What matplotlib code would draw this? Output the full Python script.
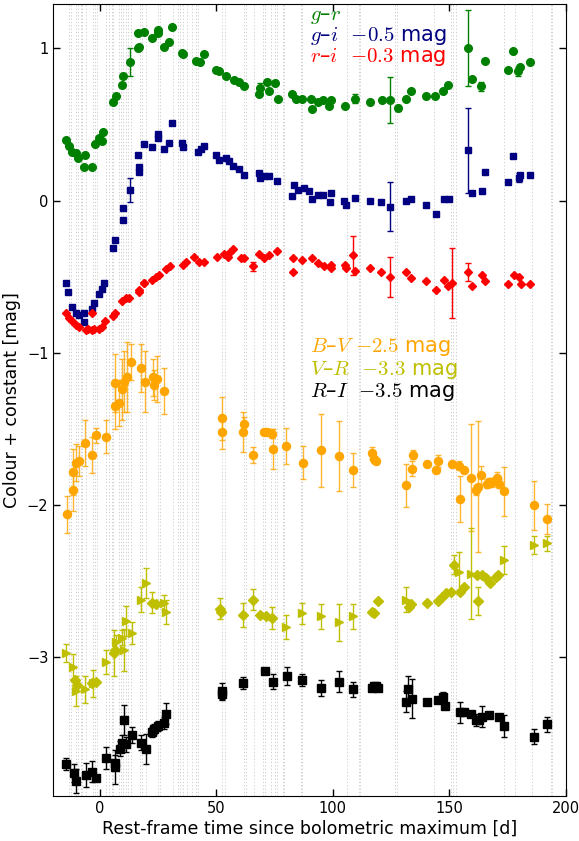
import numpy as np
import matplotlib
matplotlib.use("Agg")
import matplotlib.pyplot as plt

plt.rcParams['mathtext.fontset'] = 'cm'
plt.rcParams['font.family'] = ['DejaVu Sans']

# ---------------- data ----------------
# g-r
gr_t = [-14.4,-13.2,-11.8,-10.4,-9.2,-6.3,-6.8,-3.2,-2.1,-0.3,0.8,1.5,5.8,6.8,9.6,9.9,12.8,16.5,17.0,16.4,18.9,22.5,24.8,25.1,27.5,29.7,30.8,35.1,35.8,41.2,43.1,44.8,49.8,51.2,54.1,57.7,59.8,61.9,68.7,68.1,71.9,72.7,75.2,76.6,82.6,84.1,86.9,90.5,91.2,93.4,95.8,98.4,99.1,105.2,109.5,115.8,120.9,124.4,128.1,131.2,133.4,140.1,143.8,147.2,149.4,158.1,159.5,163.6,165.1,175.2,177.4,179.5,180.2,184.4]
gr_c = [0.40,0.36,0.32,0.31,0.28,0.30,0.22,0.22,0.37,0.41,0.39,0.45,0.65,0.69,0.76,0.82,0.91,1.00,1.01,1.10,1.11,1.07,1.12,1.10,1.01,1.04,1.14,0.97,0.96,0.92,0.91,0.96,0.86,0.85,0.82,0.79,0.78,0.75,0.74,0.70,0.78,0.72,0.77,0.67,0.70,0.67,0.67,0.67,0.60,0.65,0.66,0.62,0.66,0.62,0.67,0.65,0.66,0.66,0.61,0.67,0.72,0.69,0.69,0.72,0.76,1.00,0.80,0.75,0.92,0.86,0.98,0.85,0.88,0.91]
gr_e = [0,0,0,0,0,0,0,0,0,0,0,0,0,0,0,0,0.09,0,0,0,0,0,0,0,0,0,0,0,0,0,0,0,0,0,0,0,0,0,0.03,0,0,0,0,0,0,0,0,0,0,0,0,0,0,0,0.03,0,0,0.15,0.02,0,0,0,0,0,0,0.25,0,0.03,0,0,0,0.03,0,0]

# g-i (already shifted by -0.5 mag)
gi_t = [-14.4,-13.5,-11.8,-10.4,-8.9,-6.8,-6.8,-3.2,-2.5,-0.3,0.8,1.8,5.8,6.6,9.8,9.9,12.8,16.8,16.8,16.4,18.9,22.5,24.8,25.1,27.6,29.7,30.8,35.1,35.5,41.9,43.4,44.8,49.8,51.2,54.1,55.5,57.0,59.8,61.9,68.4,68.7,70.5,72.7,76.2,83.4,82.6,84.8,87.7,89.8,91.2,93.4,95.9,98.7,99.1,104.8,105.5,109.5,115.8,120.8,124.4,131.2,133.4,140.1,144.1,147.7,149.8,158.1,159.5,163.8,165.2,175.2,177.4,179.8,180.2,184.5]
gi_c = [-0.54,-0.60,-0.70,-0.74,-0.75,-0.74,-0.80,-0.71,-0.67,-0.61,-0.58,-0.54,-0.31,-0.26,-0.13,-0.05,0.07,0.19,0.22,0.30,0.37,0.35,0.44,0.41,0.34,0.38,0.51,0.38,0.35,0.32,0.34,0.36,0.30,0.27,0.28,0.26,0.23,0.21,0.17,0.18,0.15,0.16,0.16,0.13,0.10,0.03,0.07,0.08,0.06,0.01,0.04,0.04,-0.01,0.05,0.00,-0.03,0.02,0.00,-0.01,-0.04,0.00,0.01,-0.03,-0.09,0.01,0.01,0.33,0.05,0.06,0.19,0.12,0.29,0.15,0.17,0.17]
gi_e = [0,0,0,0,0,0,0,0,0,0,0,0,0,0,0,0,0.08,0,0,0,0,0,0,0,0,0,0,0,0,0,0,0,0,0,0,0,0,0,0,0,0,0,0,0,0,0,0,0,0,0,0,0,0,0,0,0,0,0,0,0.16,0,0,0,0,0,0,0.28,0,0,0,0,0,0.03,0,0]

# r-i (already shifted by -0.3 mag)
ri_t = [-14.4,-13.2,-11.8,-10.4,-8.9,-6.1,-4.9,-3.2,-2.5,-0.3,1.1,2.2,-3.2,5.7,6.6,9.6,11.2,12.5,16.6,16.8,18.9,19.1,22.5,23.9,25.4,28.4,30.3,35.5,36.8,40.5,42.5,44.8,50.1,53.4,54.8,57.2,56.0,60.5,61.9,65.8,68.4,70.5,72.7,76.2,82.9,82.9,86.9,91.0,93.4,96.2,99.1,99.3,105.1,105.5,108.8,109.5,115.8,120.8,124.4,131.2,133.4,140.1,144.1,147.7,149.5,151.2,158.1,159.5,163.8,165.2,175.2,177.6,179.8,180.5,184.5]
ri_c = [-0.74,-0.77,-0.79,-0.82,-0.83,-0.85,-0.84,-0.85,-0.84,-0.84,-0.83,-0.79,-0.74,-0.76,-0.74,-0.66,-0.64,-0.64,-0.60,-0.59,-0.54,-0.54,-0.52,-0.50,-0.49,-0.45,-0.43,-0.42,-0.40,-0.37,-0.40,-0.40,-0.37,-0.35,-0.37,-0.32,-0.34,-0.38,-0.38,-0.43,-0.35,-0.38,-0.36,-0.33,-0.38,-0.47,-0.39,-0.38,-0.41,-0.43,-0.42,-0.44,-0.42,-0.44,-0.36,-0.46,-0.44,-0.47,-0.50,-0.47,-0.51,-0.53,-0.59,-0.52,-0.56,-0.54,-0.47,-0.56,-0.49,-0.53,-0.55,-0.49,-0.50,-0.55,-0.55]
ri_e = [0,0,0,0,0,0,0,0,0,0,0,0,0,0,0,0,0,0,0,0,0,0,0,0,0,0,0,0,0,0,0,0,0,0,0,0,0,0,0,0.03,0,0,0,0,0,0,0,0,0,0,0,0,0,0,0.13,0,0,0,0.13,0,0,0,0,0,0,0.23,0.06,0,0,0,0,0,0,0,0]

# B-V (shifted by -2.5 mag)
bv_t = [-14.2,-11.4,-11.4,-10.2,-9.1,-6.2,-3.3,-1.6,2.7,6.6,6.6,8.4,9.5,10.5,11.5,13.5,17.7,19.5,22.6,23.4,24.3,27.6,52.2,52.2,61.2,61.9,65.9,70.5,71.9,73.8,74.1,80.0,87.0,94.8,102.7,108.8,116.7,117.7,118.6,131.5,133.8,134.5,140.2,144.4,145.2,151.2,154.1,154.5,156.2,159.4,161.3,162.2,163.4,166.2,167.0,168.4,170.2,171.2,173.4,186.2,191.9]
bv_c = [-2.06,-1.90,-1.78,-1.72,-1.71,-1.59,-1.67,-1.54,-1.55,-1.35,-1.20,-1.33,-1.24,-1.19,-1.16,-1.06,-1.10,-1.19,-1.16,-1.21,-1.17,-1.25,-1.43,-1.52,-1.52,-1.47,-1.67,-1.52,-1.52,-1.53,-1.63,-1.61,-1.72,-1.64,-1.68,-1.77,-1.66,-1.70,-1.71,-1.87,-1.76,-1.67,-1.73,-1.77,-1.71,-1.73,-1.74,-1.96,-1.77,-1.82,-1.90,-1.88,-1.80,-1.86,-1.85,-1.85,-1.82,-1.86,-1.91,-2.00,-2.09]
bv_e = [0.12,0.14,0.15,0.12,0.10,0.15,0.12,0.05,0.11,0.15,0.19,0.15,0.20,0.20,0.23,0.12,0.16,0.20,0.12,0.10,0.15,0.15,0.14,0.11,0.13,0.05,0.05,0.02,0.02,0.03,0.13,0.12,0.11,0.24,0.23,0.11,0.04,0.02,0.02,0.14,0.05,0.03,0.02,0.02,0.04,0.02,0.03,0.15,0.02,0.35,0.03,0.43,0.06,0.03,0.03,0.03,0.04,0.03,0.16,0.16,0.10]

# V-R (shifted by -3.3 mag), two data sets
vr1_t = [-14.4,-11.5,-10.1,-6.3,-2.9,2.5,7.1,9.3,10.4,11.4,13.6,17.5,19.6,27.5,28.2,79.8,86.9,94.8,102.7,108.7,131.2,154.1,159.1,173.4,186.2,191.9]
vr1_c = [-2.97,-3.06,-3.22,-3.21,-3.17,-3.03,-2.90,-2.87,-2.95,-2.76,-2.84,-2.62,-2.51,-2.64,-2.70,-2.80,-2.71,-2.73,-2.77,-2.73,-2.62,-2.44,-2.45,-2.36,-2.26,-2.25]
vr1_e = [0.06,0.08,0.10,0.09,0.09,0.08,0.05,0.05,0.14,0.10,0.07,0.08,0.10,0.05,0.08,0.08,0.07,0.08,0.12,0.08,0.08,0.13,0.30,0.09,0.06,0.05]
vr2_t = [-10.6,-10.0,-3.5,-1.8,6.1,6.6,22.2,23.9,51.5,52.0,61.5,65.8,68.7,71.2,73.8,116.7,117.7,119.5,132.7,133.5,140.2,145.2,146.7,148.5,150.5,151.9,154.5,156.2,162.2,162.0,164.0,165.5,167.2,170.1,171.0]
vr2_c = [-3.15,-3.18,-3.17,-3.16,-2.97,-2.95,-2.64,-2.65,-2.68,-2.70,-2.72,-2.62,-2.72,-2.73,-2.74,-2.70,-2.71,-2.63,-2.67,-2.65,-2.64,-2.63,-2.60,-2.58,-2.57,-2.39,-2.57,-2.54,-2.63,-2.46,-2.46,-2.48,-2.51,-2.47,-2.46]
vr2_e = [0,0,0,0,0.15,0,0.07,0,0.07,0,0.08,0.07,0,0,0.07,0,0,0,0,0,0,0,0,0,0,0.06,0,0,0.09,0,0,0,0,0,0]

# R-I (shifted by -3.5 mag)
rI_t = [-14.4,-11.1,-10.1,-6.1,-3.5,-1.8,2.5,6.5,6.5,8.5,9.6,10.4,11.4,13.6,17.5,19.6,22.2,23.2,25.1,27.5,28.5,52.2,52.2,61.2,70.9,74.4,80.1,86.9,94.8,102.7,108.8,116.7,117.7,118.6,119.5,131.5,132.4,133.8,140.2,145.2,147.2,148.1,154.4,156.2,159.4,161.3,162.7,164.1,167.0,171.2,173.4,186.2,191.9]
rI_c = [-3.70,-3.76,-3.81,-3.77,-3.75,-3.79,-3.66,-3.72,-3.69,-3.60,-3.56,-3.41,-3.57,-3.51,-3.56,-3.60,-3.49,-3.47,-3.45,-3.43,-3.37,-3.22,-3.24,-3.17,-3.09,-3.16,-3.12,-3.15,-3.20,-3.16,-3.21,-3.20,-3.19,-3.19,-3.20,-3.29,-3.21,-3.27,-3.29,-3.28,-3.26,-3.32,-3.36,-3.36,-3.37,-3.41,-3.41,-3.39,-3.38,-3.39,-3.45,-3.52,-3.44]
rI_e = [0.04,0.06,0.08,0.08,0.07,0.02,0.07,0.11,0.05,0.05,0.05,0.10,0.05,0.05,0.05,0.10,0.03,0.03,0.03,0.04,0.07,0.05,0.04,0.04,0.02,0.05,0.06,0.04,0.05,0.07,0.05,0.02,0.02,0.02,0.02,0.07,0.09,0.13,0.02,0.02,0.03,0.02,0.07,0.02,0.02,0.04,0.02,0.07,0.02,0.02,0.07,0.05,0.05]

# epochs marked with dotted vertical lines
epochs = [-13.1,-12.2,-10.4,-9.4,-8.2,-7.5,-6.1,-2.9,-2.1,-1.1,2.5,3.9,5.1,5.8,8.2,8.9,9.9,11.4,12.1,13.2,17.1,17.9,19.6,25.1,25.6,31.4,33.4,34.2,35.6,37.5,39.6,41.4,42.1,52.5,53.7,61.8,62.5,66.2,70.1,70.8,73.6,75.1,75.8,78.4,79.1,86.2,86.9,105.9,111.2,111.7,126.5,127.4,143.4,150.5,151.5,152.9,173.4,178.1,185.5,193.4,194.1]

# ---------------- plot ----------------
fig = plt.figure(figsize=(5.79, 8.41), dpi=100)
ax = fig.add_axes([0.092, 0.0535, 0.8855, 0.9415])

for e in epochs:
    ax.axvline(e, color='0.78', ls=(0, (1.5, 2.5)), lw=0.6, zorder=0)

def series(t, c, e, color, marker, ms, ealpha=1.0):
    t = np.asarray(t, float); c = np.asarray(c, float); e = np.asarray(e, float)
    m = e > 0
    if m.any():
        ax.errorbar(t[m], c[m], yerr=e[m], fmt='none', ecolor=color, elinewidth=1.0,
                    capsize=2.5, capthick=1.0, alpha=ealpha, zorder=2)
    ax.plot(t, c, ls='none', marker=marker, ms=ms, color=color, mec=color, zorder=3)

series(gr_t, gr_c, gr_e, '#008000', 'o', 5.5)
series(gi_t, gi_c, gi_e, '#000080', 's', 5.0)
series(ri_t, ri_c, ri_e, '#ff0000', 'D', 4.5)
series(bv_t, bv_c, bv_e, '#ffa500', 'o', 5.8, 0.8)
series(vr1_t, vr1_c, vr1_e, '#bfbf00', '>', 5.8)
series(vr2_t, vr2_c, vr2_e, '#bfbf00', 'D', 5.2)
series(rI_t, rI_c, rI_e, '#000000', 's', 5.2)

fs = 15
tx = 90
ax.text(tx, 1.210, r'$g$–$r$', color='#008000', fontsize=fs, va='center')
ax.text(tx, 1.080, r'$g$–$i$  $-0.5$ mag', color='#000080', fontsize=fs, va='center')
ax.text(tx, 0.940, r'$r$–$i$  $-0.3$ mag', color='#ff0000', fontsize=fs, va='center')
ax.text(tx, -0.960, r'$B$–$V$ $-2.5$ mag', color='#ffa500', fontsize=fs, va='center')
ax.text(tx, -1.110, r'$V$–$R$  $-3.3$ mag', color='#bfbf00', fontsize=fs, va='center')
ax.text(tx, -1.260, r'$R$–$I$  $-3.5$ mag', color='#000000', fontsize=fs, va='center')

ax.set_xlim(-20, 200)
ax.set_ylim(-3.91, 1.29)
ax.set_xticks([0, 50, 100, 150, 200])
ax.set_yticks([-3, -2, -1, 0, 1])
ax.tick_params(direction='in', top=True, right=True, length=5, width=1, labelsize=10.5)
ax.set_xlabel('Rest-frame time since bolometric maximum [d]', fontsize=12.5, labelpad=3)
ax.set_ylabel('Colour + constant [mag]', fontsize=12.5, labelpad=4)

fig.savefig('out.png', dpi=100)
